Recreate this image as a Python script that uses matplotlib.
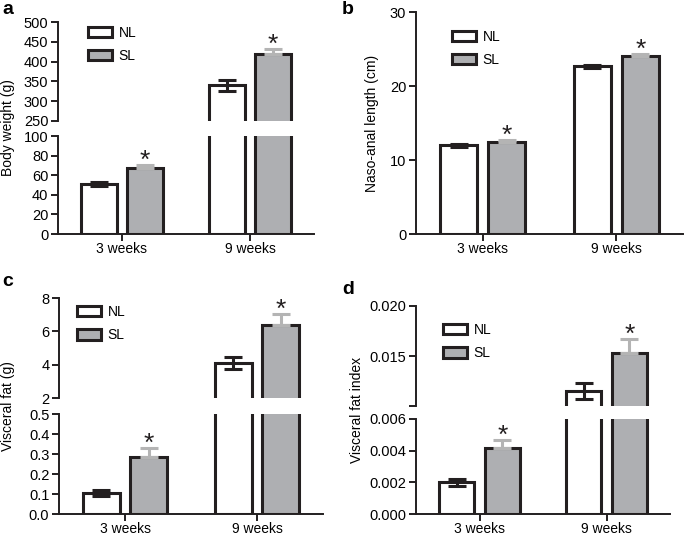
import numpy as np
import matplotlib
matplotlib.use('Agg')
import matplotlib.pyplot as plt
from matplotlib.patches import Patch

plt.rcParams['font.family'] = ['Liberation Sans', 'DejaVu Sans']

# dane
groups = ['3 weeks', '9 weeks']
series = ['NL', 'SL']

weight_nl = [51, 340]
weight_nl_err = [2, 13]
weight_sl = [67, 419]
weight_sl_err = [3.5, 13]

length_nl = [12.0, 22.7]
length_nl_err = [0.2, 0.2]
length_sl = [12.4, 24.0]
length_sl_err = [0.3, 0.3]

fat_nl = [0.105, 4.1]
fat_nl_err = [0.015, 0.35]
fat_sl = [0.285, 6.38]
fat_sl_err = [0.045, 0.65]

index_nl = [0.0020, 0.0115]
index_nl_err = [0.0002, 0.0008]
index_sl = [0.0042, 0.0153]
index_sl_err = [0.00045, 0.0014]

DARK = '#231f20'
GRAY = '#aeafb2'
ERR_GRAY = '#b4b4b4'
W, H = 685, 537

fig = plt.figure(figsize=(W / 100, H / 100), dpi=100)


def px_axes(x0, x1, ytop, ybot):
    return fig.add_axes([x0 / W, 1 - ybot / H, (x1 - x0) / W, (ybot - ytop) / H])


def style(ax, bottom=True):
    for s in ['top', 'right']:
        ax.spines[s].set_visible(False)
    ax.spines['left'].set_linewidth(1.4)
    ax.spines['left'].set_color(DARK)
    ax.tick_params(axis='y', length=5, width=1.4, color=DARK, labelsize=10.5, pad=2)
    ax.set_xlim(-0.5, 1.5)
    if bottom:
        ax.spines['bottom'].set_linewidth(1.4)
        ax.spines['bottom'].set_color(DARK)
        ax.set_xticks(range(len(groups)))
        ax.set_xticklabels(groups)
        ax.tick_params(axis='x', length=5, width=1.4, color=DARK, labelsize=10, pad=1)
    else:
        ax.spines['bottom'].set_visible(False)
        ax.set_xticks([])


def draw_bars(ax, nl, nl_err, sl, sl_err):
    x = np.arange(len(groups))
    w, off = 0.28, 0.18
    ax.bar(x - off, nl, w, color='white', edgecolor=DARK, linewidth=2.2)
    ax.bar(x + off, sl, w, color=GRAY, edgecolor=DARK, linewidth=2.2)
    ax.errorbar(x - off, nl, yerr=nl_err, fmt='none', ecolor=DARK,
                elinewidth=2.2, capsize=6.5, capthick=2.2)
    ax.errorbar(x + off, sl, yerr=[np.zeros(len(sl)), sl_err], fmt='none',
                ecolor=ERR_GRAY, elinewidth=2.2, capsize=6.5, capthick=2.2)
    for xi, v, e in zip(x + off, sl, sl_err):
        ax.annotate('*', xy=(xi, v + e), xytext=(0, 3), textcoords='offset points',
                    ha='center', va='center', fontsize=19, color=DARK)


def add_legend(ax, x, y):
    handles = [Patch(facecolor='white', edgecolor=DARK, linewidth=2.2, joinstyle='round'),
               Patch(facecolor=GRAY, edgecolor=DARK, linewidth=2.2, joinstyle='round')]
    ax.legend(handles, series, loc='upper left', bbox_to_anchor=(x, y), frameon=False,
              fontsize=10, handlelength=1.75, handleheight=0.8, labelspacing=0.65,
              handletextpad=0.45, borderpad=0, borderaxespad=0)


# a - masa ciała (przerwana oś)
a_top = px_axes(58, 314, 22, 121)
a_bot = px_axes(58, 314, 136, 234)
for ax in (a_top, a_bot):
    draw_bars(ax, weight_nl, weight_nl_err, weight_sl, weight_sl_err)
a_top.set_ylim(250, 500)
a_top.set_yticks(np.arange(250, 501, 50))
a_bot.set_ylim(0, 100)
a_bot.set_yticks(np.arange(0, 101, 20))
style(a_top, bottom=False)
style(a_bot)
add_legend(a_top, 0.117, 0.96)
fig.text(8 / W, 1 - 128 / H, 'Body weight (g)', rotation=90, ha='center', va='center', fontsize=10)

# b - długość
b_ax = px_axes(416, 683, 12, 234)
draw_bars(b_ax, length_nl, length_nl_err, length_sl, length_sl_err)
b_ax.set_ylim(0, 30)
b_ax.set_yticks([0, 10, 20, 30])
style(b_ax)
add_legend(b_ax, 0.135, 0.92)
fig.text(372 / W, 1 - 123 / H, 'Naso-anal length (cm)', rotation=90, ha='center', va='center', fontsize=10)

# c - tłuszcz trzewny
c_top = px_axes(59, 323, 298, 398)
c_bot = px_axes(59, 323, 414, 514)
for ax in (c_top, c_bot):
    draw_bars(ax, fat_nl, fat_nl_err, fat_sl, fat_sl_err)
c_top.set_ylim(2, 8)
c_top.set_yticks([2, 4, 6, 8])
c_bot.set_ylim(0, 0.5)
c_bot.set_yticks(np.arange(0, 0.51, 0.1))
c_bot.yaxis.set_major_formatter(matplotlib.ticker.FormatStrFormatter('%.1f'))
style(c_top, bottom=False)
style(c_bot)
add_legend(c_top, 0.068, 0.93)
fig.text(8 / W, 1 - 406 / H, 'Visceral fat (g)', rotation=90, ha='center', va='center', fontsize=10)

# d - indeks tłuszczu trzewnego
d_top = px_axes(416, 670, 306, 406)
d_bot = px_axes(416, 670, 419, 514)
for ax in (d_top, d_bot):
    draw_bars(ax, index_nl, index_nl_err, index_sl, index_sl_err)
d_top.set_ylim(0.010, 0.020)
d_top.set_yticks([0.010, 0.015, 0.020])
d_top.set_yticklabels(['', '0.015', '0.020'])
d_bot.set_ylim(0, 0.006)
d_bot.set_yticks([0, 0.002, 0.004, 0.006])
d_bot.yaxis.set_major_formatter(matplotlib.ticker.FormatStrFormatter('%.3f'))
style(d_top, bottom=False)
style(d_bot)
add_legend(d_top, 0.106, 0.83)
fig.text(357 / W, 1 - 410 / H, 'Visceral fat index', rotation=90, ha='center', va='center', fontsize=10)

# litery paneli
for letter, (x, y) in zip('abcd', [(2, 10), (342, 10), (2, 282), (342, 290)]):
    fig.text(x / W, 1 - y / H, letter, fontsize=14, fontweight='bold', ha='left', va='center')

fig.savefig('out.png', dpi=100)
